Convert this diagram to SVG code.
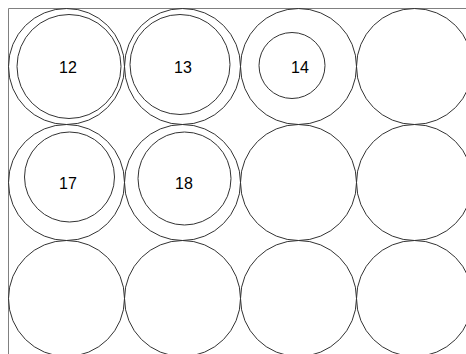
<svg xmlns="http://www.w3.org/2000/svg" width="466" height="354" viewBox="0 0 466 354">
<style>
.frame{fill:none;stroke:#808080;stroke-width:1}
.c{fill:none;stroke:#333;stroke-width:1}
.t{font-family:"Liberation Sans",Arial,sans-serif;font-size:16px;fill:#000;text-anchor:middle}
</style>
<rect width="466" height="354" fill="#fff"/>
<path class="frame" d="M8.5 354V8.5H466"/>
<g id="well-12"><circle class="c" cx="66.5" cy="66.5" r="58"/><circle class="c" cx="69" cy="66.5" r="52"/><text class="t" x="68" y="72.5">12</text></g>
<g id="well-13"><circle class="c" cx="182.5" cy="66.5" r="58"/><circle class="c" cx="180" cy="64.5" r="50"/><text class="t" x="183" y="72.5">13</text></g>
<g id="well-14"><circle class="c" cx="298.5" cy="66.5" r="58"/><circle class="c" cx="292" cy="65.5" r="33"/><text class="t" x="300" y="72.5">14</text></g>
<g id="well-15"><circle class="c" cx="414.5" cy="66.5" r="58"/></g>
<g id="well-17"><circle class="c" cx="66.5" cy="182.5" r="58"/><circle class="c" cx="69.5" cy="177" r="45"/><text class="t" x="68" y="189">17</text></g>
<g id="well-18"><circle class="c" cx="182.5" cy="182.5" r="58"/><circle class="c" cx="184.5" cy="178.5" r="46.5"/><text class="t" x="184" y="189">18</text></g>
<g id="well-19"><circle class="c" cx="298.5" cy="182.5" r="58"/></g>
<g id="well-20"><circle class="c" cx="414.5" cy="182.5" r="58"/></g>
<g id="well-21"><circle class="c" cx="66.5" cy="298.5" r="58"/></g>
<g id="well-22"><circle class="c" cx="182.5" cy="298.5" r="58"/></g>
<g id="well-23"><circle class="c" cx="298.5" cy="298.5" r="58"/></g>
<g id="well-24"><circle class="c" cx="414.5" cy="298.5" r="58"/></g>
<g id="connectors"></g>
</svg>
